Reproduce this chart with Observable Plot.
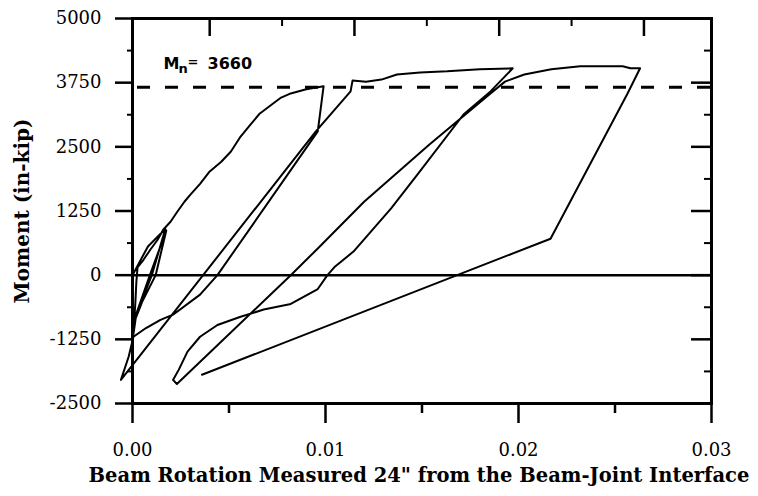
<!DOCTYPE html>
<html>
<head>
<meta charset="utf-8">
<script src="https://cdn.jsdelivr.net/npm/d3@7"></script>
<script src="https://cdn.jsdelivr.net/npm/@observablehq/plot@0.6"></script>
<style>
  html, body { margin: 0; padding: 0; background: #fff; }
</style>
</head>
<body>
<div id="chart"></div>
<script>
// ---- Data (beam rotation, moment in in-kip) ----
const rotSmall = [0, 0.0008, 0.0017, 0.001, 0.0003, 0.00005, 0.0005, 0.0012, 0.00175, 0.0009, 0.0002, 0.00005, 0.00015, 0.0002];
const momSmall = [0, 560, 900, 0, -670, -950, -520, 0, 870, 0, -750, -1150, -520, -130];

const rotLoad2 = [0.00026, 0.00057, 0.00093, 0.0013, 0.0016, 0.00197, 0.00233, 0.00269, 0.003, 0.0035, 0.004, 0.0046, 0.0051, 0.0056, 0.0061, 0.0066, 0.0072, 0.0077, 0.0082, 0.009, 0.0099];
const momLoad2 = [150, 300, 500, 690, 890, 1040, 1240, 1430, 1570, 1780, 2020, 2210, 2410, 2700, 2930, 3150, 3320, 3460, 3540, 3620, 3680];

const rotUnload2 = [0.0096, 0.0044, 0.0035, 0.0021, 0.00145, 0.0007, 0.00005, -0.0002, -0.0006];
const momUnload2 = [2800, 0, -380, -770, -870, -1030, -1200, -1590, -2040];

const rotLoad3 = [0.0095, 0.0113, 0.0114, 0.0121, 0.0129, 0.0137, 0.0149, 0.0163, 0.018, 0.0197];
const momLoad3 = [2800, 3580, 3790, 3770, 3810, 3910, 3950, 3970, 4010, 4030];

const rotUnload3 = [0.01855, 0.01715, 0.0148, 0.0134, 0.01145, 0.0105, 0.0101, 0.0096, 0.0082, 0.0068, 0.0056, 0.0044, 0.0035, 0.00285, 0.0024, 0.0021, 0.0023];
const momUnload3 = [3580, 3130, 1980, 1300, 460, 170, 0, -270, -560, -670, -810, -970, -1200, -1490, -1840, -2040, -2120];

const rotLoad4 = [0.0082, 0.0096, 0.012, 0.0154, 0.01855, 0.0193, 0.0203, 0.0217, 0.0232, 0.0254, 0.0258, 0.0263];
const momLoad4 = [0, 520, 1430, 2550, 3540, 3770, 3910, 4010, 4070, 4070, 4030, 4030];

const rotUnload4 = [0.02565, 0.02166, 0.0036];
const momUnload4 = [3540, 710, -1940];

const nominalMoment = 3660;

// ---- Tick values ----
const xMajor = [0, 0.01, 0.02, 0.03];
const xMinor = [0.005, 0.015, 0.025];
const topMajor = [0.004, 0.0115, 0.019, 0.0265];
const topMinor = [0.00775, 0.01525, 0.02275];
const yMajor = [-2500, -1250, 0, 1250, 2500, 3750, 5000];
const yMinor = [-1875, -625, 625, 1875, 3125, 4375];

const xLabel = "Beam Rotation Measured 24\" from the Beam-Joint Interface";
const yLabel = "Moment (in-kip)";

// ---- Build one continuous path ----
const branches = [
  [rotSmall, momSmall], [rotLoad2, momLoad2], [rotUnload2, momUnload2],
  [rotLoad3, momLoad3], [rotUnload3, momUnload3], [rotLoad4, momLoad4], [rotUnload4, momUnload4]
];
const path = branches.flatMap(([r, m]) => r.map((v, i) => ({rot: v, mom: m[i]})));

const W = 758, H = 496, ML = 132, MR = 47, MT = 18, MB = 93;
const innerW = W - ML - MR, innerH = H - MT - MB;
const serif = "DejaVu Serif";
const sans = "DejaVu Sans";

const chart = Plot.plot({
  width: W, height: H,
  marginLeft: ML, marginRight: MR, marginTop: MT, marginBottom: MB,
  style: {fontFamily: serif, fontSize: "18px", color: "black", background: "white"},
  x: {domain: [0, 0.03]},
  y: {domain: [-2500, 5000]},
  marks: [
    Plot.ruleY([0], {stroke: "black", strokeWidth: 2.5}),
    Plot.ruleY([nominalMoment], {stroke: "black", strokeWidth: 3, strokeDasharray: "13,15", insetLeft: 5}),
    Plot.line(path, {x: "rot", y: "mom", stroke: "black", strokeWidth: 2, strokeLinejoin: "round"}),
    Plot.frame({stroke: "black", strokeWidth: 3}),
    // left axis (outside ticks)
    Plot.axisY({ticks: yMajor, tickSize: 17, tickPadding: 14, strokeWidth: 2.5, label: null,
      tickFormat: d => String(d), fontSize: 18, fontFamily: serif}),
    Plot.axisY({ticks: yMinor, tickSize: 5, tickPadding: 0, strokeWidth: 2, label: null, tickFormat: () => ""}),
    // right side (inside ticks)
    Plot.tickY(yMajor, {stroke: "black", strokeWidth: 2.5, insetLeft: innerW - 20}),
    Plot.tickY(yMinor, {stroke: "black", strokeWidth: 2, insetLeft: innerW - 7}),
    // top side (inside ticks)
    Plot.tickX(topMajor, {stroke: "black", strokeWidth: 2.5, insetBottom: innerH - 18}),
    Plot.tickX(topMinor, {stroke: "black", strokeWidth: 2, insetBottom: innerH - 8}),
    // bottom axis (outside ticks)
    Plot.axisX({ticks: xMajor, tickSize: 20, tickPadding: 20, strokeWidth: 2.5, label: null,
      tickFormat: d3.format(".2f"), fontSize: 18, fontFamily: serif}),
    Plot.axisX({ticks: xMinor, tickSize: 10, tickPadding: 0, strokeWidth: 2.5, label: null, tickFormat: () => ""}),
    // axis titles
    Plot.text([xLabel], {frameAnchor: "bottom", dx: -3, dy: 78, fontWeight: "bold", fontSize: 19.5, fontFamily: serif, fill: "black"}),
    Plot.text([yLabel], {frameAnchor: "left", dx: -110, rotate: -90, textAnchor: "middle", fontWeight: "bold", fontSize: 20, fontFamily: serif, fill: "black"}),
    // M_n = 3660 annotation
    Plot.text([nominalMoment], {x: () => 0, y: d => d, text: () => "M", dx: 31, dy: -23, textAnchor: "start", fontWeight: "bold", fontSize: 16, fontFamily: sans, fill: "black"}),
    Plot.text([nominalMoment], {x: () => 0, y: d => d, text: () => "n", dx: 46, dy: -18, textAnchor: "start", fontWeight: "bold", fontSize: 13, fontFamily: sans, fill: "black"}),
    Plot.text([nominalMoment], {x: () => 0, y: d => d, text: () => "=", dx: 55, dy: -25, textAnchor: "start", fontWeight: "bold", fontSize: 13, fontFamily: sans, fill: "black"}),
    Plot.text([nominalMoment], {x: () => 0, y: d => d, text: d => String(d), dx: 75, dy: -23, textAnchor: "start", fontWeight: "bold", fontSize: 16, fontFamily: sans, fill: "black"})
  ]
});
document.getElementById("chart").appendChild(chart);
</script>
</body>
</html>
